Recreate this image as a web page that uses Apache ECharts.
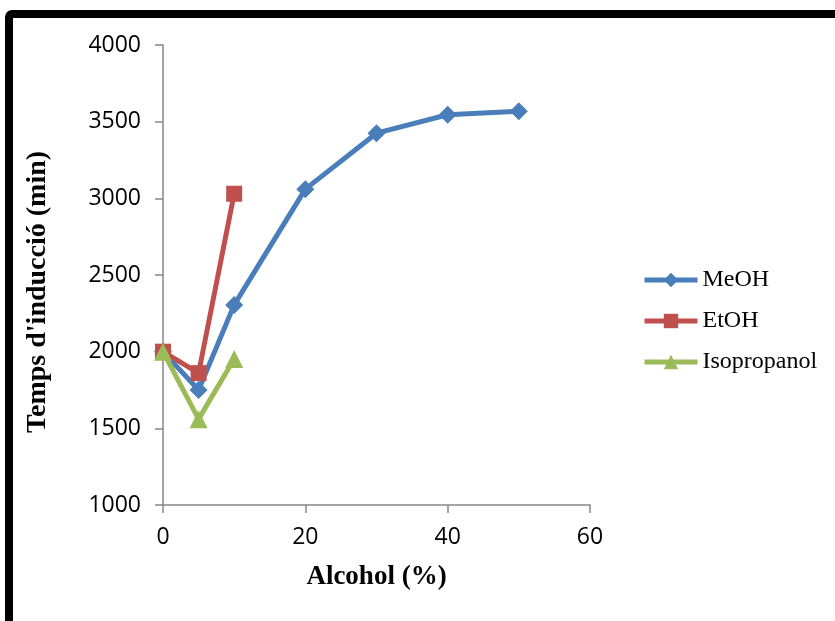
<!DOCTYPE html>
<html>
<head>
<meta charset="utf-8">
<script src="https://cdn.jsdelivr.net/npm/echarts@6/dist/echarts.min.js"></script>
<style>
  html, body { margin: 0; padding: 0; background: #fff; }
  #chart { width: 835px; height: 621px; }
</style>
</head>
<body>
<div id="chart"></div>
<script>
// Induction time versus alcohol content for three alcohols
const meohX = [0, 5, 10, 20, 30, 40, 50];
const meohY = [2000, 1750, 2305, 3060, 3425, 3545, 3568];
const etohX = [0, 5, 10];
const etohY = [2000, 1860, 3030];
const isoX = [0, 5, 10];
const isoY = [2000, 1560, 1952];

const xTitle = 'Alcohol (%)';
const yTitle = "Temps d'inducció (min)";

function pairs(xs, ys) { return xs.map((x, i) => [x, ys[i]]); }

const chart = echarts.init(document.getElementById('chart'), null, { renderer: 'canvas' });

const tickFont = { fontFamily: 'Open Sans', fontSize: 23, color: '#000', formatter: v => String(v) };
const axisGray = '#868686';
const blue = '#4a7ebb', red = '#c0504d', green = '#9bbb59';

chart.setOption({
  animation: false,
  backgroundColor: '#fff',
  graphic: [
    {
      type: 'rect',
      shape: { x: 9, y: 14, width: 1200, height: 1200, r: 3 },
      style: { fill: 'none', stroke: '#000', lineWidth: 8 },
      silent: true
    },
    {
      type: 'text',
      x: 38, y: 292,
      rotation: Math.PI / 2,
      style: {
        text: yTitle,
        font: 'bold 28px "Liberation Serif", "Times New Roman", serif',
        fill: '#000',
        align: 'center',
        verticalAlign: 'middle'
      }
    }
  ],
  grid: { left: 163, top: 45, right: 245, bottom: 116, containLabel: false },
  xAxis: {
    type: 'value', min: 0, max: 60, interval: 20,
    name: xTitle, nameLocation: 'middle', nameGap: 59,
    nameTextStyle: { fontFamily: 'Liberation Serif', fontWeight: 'bold', fontSize: 27, color: '#000' },
    axisLine: { show: true, lineStyle: { color: axisGray, width: 1.5 } },
    axisTick: { show: true, inside: false, length: 8, lineStyle: { color: axisGray, width: 1.5 } },
    axisLabel: Object.assign({ margin: 21 }, tickFont),
    splitLine: { show: false }
  },
  yAxis: {
    type: 'value', min: 1000, max: 4000, interval: 500,
    axisLine: { show: true, lineStyle: { color: axisGray, width: 1.5 } },
    axisTick: { show: true, inside: false, length: 8, lineStyle: { color: axisGray, width: 1.5 } },
    axisLabel: Object.assign({ margin: 22 }, tickFont),
    splitLine: { show: false }
  },
  legend: {
    orient: 'vertical',
    left: 637, top: 263,
    itemWidth: 53, itemHeight: 18, itemGap: 17,
    textStyle: { fontFamily: 'Liberation Serif', fontSize: 24, color: '#000', lineHeight: 24 },
    lineStyle: { width: 5 },
    data: ['MeOH', 'EtOH', 'Isopropanol']
  },
  series: [
    {
      name: 'MeOH', type: 'line', data: pairs(meohX, meohY),
      color: blue,
      symbol: 'diamond', symbolSize: 18,
      lineStyle: { width: 5, color: blue },
      itemStyle: { color: blue }, z: 2
    },
    {
      name: 'EtOH', type: 'line', data: pairs(etohX, etohY),
      color: red,
      symbol: 'rect', symbolSize: 16,
      lineStyle: { width: 5, color: red },
      itemStyle: { color: red }, z: 3
    },
    {
      name: 'Isopropanol', type: 'line', data: pairs(isoX, isoY),
      color: green,
      symbol: 'triangle', symbolSize: 18,
      lineStyle: { width: 5, color: green },
      itemStyle: { color: green }, z: 4
    }
  ]
});
</script>
</body>
</html>
